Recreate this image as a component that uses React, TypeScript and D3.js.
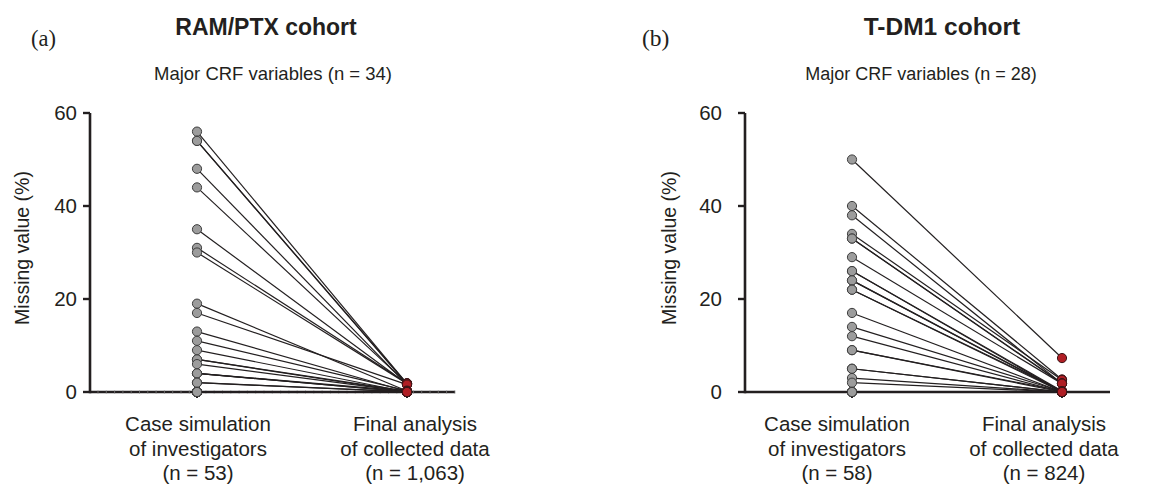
import React from "react";
import * as d3 from "d3";

// ---- data ----
const categories = ["Case simulation", "Final analysis"];
const yTicks = [0, 20, 40, 60];

const ramLabels = [
  ["Case simulation", "of investigators", "(n = 53)"],
  ["Final analysis", "of collected data", "(n = 1,063)"],
];
const tdmLabels = [
  ["Case simulation", "of investigators", "(n = 58)"],
  ["Final analysis", "of collected data", "(n = 824)"],
];

// RAM/PTX cohort, 34 major CRF variables (missing %)
const ramCase = [56, 54, 54, 48, 44, 35, 31, 30, 19, 17, 13, 11, 9, 7, 7, 6, 4, 4, 4, 2, 2, 0, 0, 0, 0, 0, 0, 0, 0, 0, 0, 0, 0, 0];
const ramFinal = [1.8, 1.7, 1.8, 1.6, 1.8, 1.7, 1.9, 1.8, 0.2, 1.6, 0.1, 0.3, 0, 0.2, 0, 0.1, 0, 0.2, 0, 0, 0.1, 0, 0, 0, 0, 0, 0, 0, 0, 0, 0, 0, 0, 0];

// T-DM1 cohort, 28 major CRF variables (missing %)
const tdmCase = [50, 40, 38, 34, 33, 33, 29, 26, 26, 24, 24, 22, 22, 17, 14, 12, 9, 9, 5, 5, 3, 2, 0, 0, 0, 0, 0, 0];
const tdmFinal = [7.3, 2.7, 1.8, 2.6, 1.8, 1.9, 1.8, 0.2, 0, 0.1, 0, 0, 0.2, 0, 0.1, 0, 0, 0.2, 0, 0, 0, 0, 0, 0, 0, 0, 0, 0];

const panels = [
  { tag: "(a)", title: "RAM/PTX cohort", subtitle: "Major CRF variables (n = 34)", caseV: ramCase, finalV: ramFinal, labels: ramLabels },
  { tag: "(b)", title: "T-DM1 cohort", subtitle: "Major CRF variables (n = 28)", caseV: tdmCase, finalV: tdmFinal, labels: tdmLabels },
];

// ---- layout ----
const W = 1155, H = 485;
const axisXs = [90, 745];
const layout = [
  { tag: [31, 46], tagSize: 22.5, title: 266, titleSize: 23, sub: 273, subSize: 18.5, ytitleBase: 29, tickGap: 13, labelDx: [1, 8] },
  { tag: [642, 46], tagSize: 23.5, title: 942, titleSize: 24.5, sub: 921, subSize: 18, ytitleBase: 676, tickGap: 23, labelDx: [-15, -18] },
];
const SANS = "'Liberation Sans', Arial, Helvetica, sans-serif";
const INK = "#231f20";

const y = d3.scaleLinear().domain([0, 60]).range([392, 113]);

function Panel({ p, i }: { p: any; i: number }) {
  const ax = axisXs[i];
  const L = layout[i];
  const x = d3.scalePoint<string>().domain(categories).range([ax + 107, ax + 317]);
  const x0 = x(categories[0])!;
  const x1 = x(categories[1])!;
  const baseEnd = ax + 365;
  const minor = i === 0 ? d3.range(ax + 8, baseEnd, 8.3) : [];
  const idx = d3.range(p.caseV.length);
  return (
    <g>
      <text x={L.tag[0]} y={L.tag[1]} fontFamily="'Liberation Serif', 'Times New Roman', serif" fontSize={L.tagSize} fill={INK}>{p.tag}</text>
      <text x={L.title} y={35} textAnchor="middle" fontFamily={SANS} fontWeight="bold" fontSize={L.titleSize} fill={INK}>{p.title}</text>
      <text x={L.sub} y={80} textAnchor="middle" fontFamily={SANS} fontSize={L.subSize} fill={INK}>{p.subtitle}</text>
      {/* y axis title */}
      <text transform={`translate(${L.ytitleBase},${248}) rotate(-90)`} textAnchor="middle" fontFamily={SANS} fontSize={19.5} fill={INK}>Missing value (%)</text>
      {/* baseline */}
      <line x1={ax} x2={baseEnd} y1={y(0)} y2={y(0)} stroke={INK} strokeWidth={2.6} />
      {minor.map((m, k) => (
        <line key={k} x1={m} x2={m} y1={y(0) - 1.5} y2={y(0) + 1.5} stroke="#777" strokeWidth={0.8} />
      ))}
      {/* y axis */}
      <line x1={ax} x2={ax} y1={y(60)} y2={y(0) + 1.3} stroke={INK} strokeWidth={2.6} />
      {yTicks.map((t) => (
        <g key={t}>
          <line x1={ax - 7} x2={ax} y1={y(t)} y2={y(t)} stroke={INK} strokeWidth={2.4} />
          <text x={ax - L.tickGap} y={y(t)} dy="0.36em" textAnchor="end" fontFamily={SANS} fontSize={20.5} fill={INK}>{t}</text>
        </g>
      ))}
      {/* x ticks */}
      {[x0, x1].map((xx, k) => (
        <line key={k} x1={xx} x2={xx} y1={y(0)} y2={y(0) + 6} stroke={INK} strokeWidth={2} />
      ))}
      {/* connecting lines */}
      {idx.map((j) => (
        <line key={j} x1={x0} y1={y(p.caseV[j])} x2={x1} y2={y(p.finalV[j])} stroke={INK} strokeWidth={1.2} />
      ))}
      {/* markers */}
      {idx.map((j) => (
        <circle key={"c" + j} cx={x0} cy={y(p.caseV[j])} r={4.6} fill="#9c9c9c" stroke="#3d3d3d" strokeWidth={1} />
      ))}
      {idx.map((j) => (
        <circle key={"f" + j} cx={x1} cy={y(p.finalV[j])} r={4.6} fill="#b01e24" stroke="#3a1416" strokeWidth={1} />
      ))}
      {/* category labels */}
      {p.labels.map((lines: string[], k: number) => (
        <text key={k} x={[x0, x1][k] + L.labelDx[k]} textAnchor="middle" fontFamily={SANS} fontSize={20.5} fill={INK}>
          {lines.map((s, r) => (
            <tspan key={r} x={[x0, x1][k] + L.labelDx[k]} y={431 + r * 24.5}>{s}</tspan>
          ))}
        </text>
      ))}
    </g>
  );
}

export default function App() {
  return (
    <svg width={W} height={H} style={{ position: "absolute", left: 0, top: 0, background: "#fff" }}>
      <rect width={W} height={H} fill="#fff" />
      {panels.map((p, i) => (
        <Panel key={i} p={p} i={i} />
      ))}
    </svg>
  );
}
